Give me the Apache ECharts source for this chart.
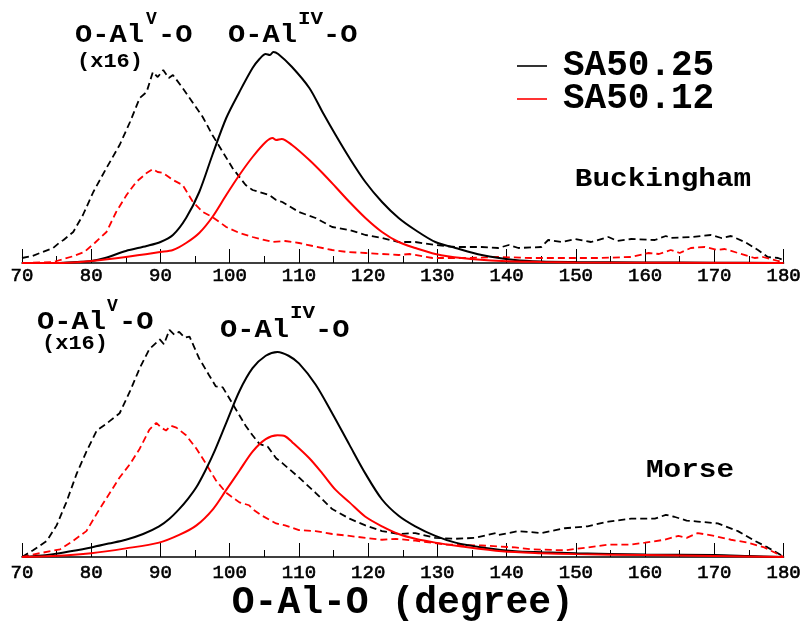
<!DOCTYPE html>
<html><head><meta charset="utf-8">
<script src="https://cdn.jsdelivr.net/npm/echarts@6/dist/echarts.min.js"></script>
<style>html,body{margin:0;padding:0;background:#fff}#c{width:804px;height:623px}</style>
</head><body><div id="c"></div>
<script>
// X axis (angle, degree)
const xMin = 70, xMax = 180, xStep = 10;
const legendNames = ['SA50.25', 'SA50.12'];
const xTitle = 'O-Al-O (degree)';
const panelNames = ['Buckingham', 'Morse'];

// [angle, intensity] — Buckingham panel
const buckSA25_IV = [[70,0],[75,0],[78,1],[80,2],[82,5],[85,12],[88,17],[90,21],[91.8,28],[93.7,45],[95.6,71],[97.5,108],[99.5,145],[101.4,171],[103.3,195],[104.3,204],[105.2,209],[105.8,208],[106.3,211],[107,209],[109,196],[111.5,175],[113.4,151],[115.3,128],[117.3,105],[119.6,81],[122,61],[124.4,45],[126.8,33],[129.7,21],[132.6,15],[136.4,8],[141.2,3],[145,1.5],[150,1],[160,0.5],[170,0.3],[180,0]];
const buckSA12_IV = [[70,0],[76,0],[80,2],[85,6],[90,11],[91.8,13],[93.7,20],[95.6,30],[97.5,46],[99.5,68],[101.4,88],[103.3,106],[105.2,121],[106.2,125],[106.7,123],[107.5,124],[109,118],[111.5,103],[113.4,90],[115.3,76],[117.3,61],[119.6,45],[122,31],[124.4,21],[126.8,15],[129.7,9],[133.5,5],[139.3,2],[145,1],[150,0.5],[180,0]];
const buckSA25_V = [[70,5],[71.5,7],[72.6,10],[74.5,15],[75.5,21],[76,23],[77.4,31],[78.8,48],[80.3,71],[82.2,95],[84.1,118],[85.6,141],[87,165],[88,171],[88.9,191],[89.6,186],[90.4,193],[91.2,185],[91.8,188],[93.2,175],[94.7,160],[96.1,146],[97.5,128],[99,111],[100.4,95],[102.3,78],[103.3,73],[104.3,71],[105.7,68],[106.7,63],[107.6,61],[110,51],[112.4,45],[114.8,36],[117.3,33],[119.6,28],[122,25],[124.4,21],[126.8,21],[129.7,18],[132.6,16],[136.4,16],[138.8,15],[140.3,18],[141.7,15],[145,16],[146,23],[148,21],[149.9,24],[152.2,21],[154.7,26],[156,22],[158,24],[161.4,23],[163,27],[163.7,25],[166.7,26],[169.5,28],[171,25],[172.4,27],[174.4,21],[176.3,13],[177.7,6],[179.2,5],[180,3]];
const buckSA12_V = [[70,0],[74.5,1],[76,4],[77.5,7],[79,11],[80.5,20],[82.2,31],[83.6,51],[85.1,68],[86.5,81],[88,90],[88.9,94],[89.6,91],[90.4,90],[91.2,86],[91.8,83],[93.2,78],[94.7,61],[96.1,51],[97.5,46],[99.5,36],[101.4,30],[103.3,26],[106.2,21],[108,22],[110,20],[112,17],[114.8,13],[117,11],[119.6,10],[122,9],[124.4,8],[126,9],[129.3,5],[134,5],[138.8,6],[143.6,5],[148.4,5],[153.2,5],[158,6],[160.5,10],[162,9],[163.7,13],[165,10],[166.6,15],[168.6,16],[170.5,13],[171.5,14],[173.4,10],[175.8,5],[177,6],[179.2,2],[180,1]];

// [angle, intensity] — Morse panel
const morseSA25_IV = [[70,0],[72,1],[74.5,3],[77,6],[80,10],[82.5,14],[85,18],[87.5,24],[89.8,32],[91.3,40],[92.7,50],[94,61],[95.2,73],[96.4,89],[97.6,107],[99.5,140],[101.4,173],[103.3,197],[105.2,210],[106.9,214],[108.5,210],[110,202],[112.4,180],[114.8,150],[117.3,117],[119.6,87],[122,60],[124.4,43],[126.8,32],[129.7,22],[132.6,15],[136.4,10],[141.2,6],[145,5],[150,4],[160,2.5],[170,2],[175,1],[180,0]];
const morseSA12_IV = [[70,0],[74.5,1],[80,4],[85,9],[89.8,15],[92.7,23],[95.2,33],[97.6,50],[99.5,70],[101.4,90],[103.3,110],[105.2,123],[106.9,127],[108,126],[109,120],[111.5,103],[113.4,87],[115.3,70],[117.3,57],[119.6,42],[122,32],[124.4,24],[126.8,19],[129.7,15],[133.5,11],[139.3,6],[145,4],[150,3],[160,2],[170,1],[180,0]];
const morseSA25_V = [[70,0],[71.6,7],[73.6,17],[75,33],[76.4,57],[77.9,87],[79.3,110],[80.8,132],[82,138],[82.7,142],[84.1,150],[85.6,173],[87,197],[88.4,217],[89.9,227],[90.5,222],[91.3,237],[92,232],[92.7,235],[93.5,229],[94.2,230],[95.6,207],[97,190],[98,178],[99,177],[100.4,160],[102.3,137],[103.3,127],[104.3,118],[105.5,115],[106.7,103],[107.6,98],[110,83],[112.4,67],[114.8,50],[117.3,40],[119.6,33],[122,27],[124.4,24],[126.8,25],[129.7,20],[132.6,19],[135.5,20],[138.4,25],[138.8,23],[141.7,27],[145,25],[148.4,30],[151.7,32],[154.7,37],[158,40],[161.4,40],[163,44],[164.2,42],[166,38],[167.6,37],[170.5,35],[173.4,27],[175.8,17],[177.7,10],[179.6,2],[180,0]];
const morseSA12_V = [[70,0],[72.6,4],[75.5,8],[77.4,17],[79.3,27],[81.2,50],[82.7,67],[84.1,83],[85.6,97],[87,113],[88.4,133],[89.4,140],[90.1,135],[90.8,132],[91.5,137],[92.3,135],[93.7,127],[95.2,113],[96.6,97],[98,80],[99.5,67],[101.4,57],[102.8,54],[103.3,50],[104.7,43],[106.7,35],[108,33],[110,28],[112.4,27],[114.8,24],[117.3,22],[119.6,20],[122,18],[124,19],[126.8,17],[131.3,13],[136.4,12],[141.2,10],[143.6,8],[148.4,7],[151.7,10],[154.7,13],[158,13],[160,15],[162.8,18],[164.8,22],[166,20],[167.6,25],[170,22],[172.4,18],[174.8,15],[177.2,10],[179.2,3],[180,0]];

const FONT = 'Liberation Mono';
const chart = echarts.init(document.getElementById('c'), null, {renderer: 'canvas'});

function xAxisCfg(gi, margin, withName) {
  const a = {
    type: 'value', gridIndex: gi, min: xMin, max: xMax, interval: xStep,
    axisLine: {show: true, lineStyle: {color: '#000', width: 1.5}},
    axisTick: {show: true, inside: true, length: 14, lineStyle: {color: '#000', width: 1}},
    minorTick: {show: true, splitNumber: 2, length: 7, lineStyle: {color: '#000', width: 1}},
    splitLine: {show: false}, minorSplitLine: {show: false},
    axisLabel: {margin: margin, fontSize: 19, color: '#000', fontFamily: FONT,
      textBorderColor: '#000', textBorderWidth: 0.6}
  };
  if (withName) {
    a.name = xTitle; a.nameLocation = 'middle'; a.nameGap = 27;
    a.nameTextStyle = {fontSize: 38, fontWeight: 'bold', color: '#000', fontFamily: FONT};
  }
  return a;
}
function yAxisCfg(gi) {
  return {type: 'value', gridIndex: gi, min: 0, max: 240, show: false};
}
function ser(name, data, gi, color, dashed) {
  return {
    name: name, type: 'line', xAxisIndex: gi, yAxisIndex: gi, data: data,
    symbol: 'none', showSymbol: false, smooth: dashed ? false : 0.3,
    lineStyle: {color: color, width: dashed ? 1.8 : 2, type: dashed ? [7, 4] : 'solid'},
    itemStyle: {color: color}, z: dashed ? 2 : 3
  };
}
function txt(x, y, s, size, sx, align) {
  return {type: 'text', x: x, y: y, scaleX: sx || 1, silent: true,
    style: {text: s, x: 0, y: 0, fill: '#000', font: 'bold ' + size + 'px "' + FONT + '"',
      textAlign: align || 'left', textVerticalAlign: 'middle'}};
}

const option = {
  animation: false,
  backgroundColor: '#fff',
  grid: [
    {left: 22, width: 764, top: 23, height: 240},
    {left: 22, width: 764, top: 327, height: 240}
  ],
  xAxis: [xAxisCfg(0, 3, false), xAxisCfg(1, 6, true)],
  yAxis: [yAxisCfg(0), yAxisCfg(1)],
  legend: {
    data: legendNames, orient: 'vertical', left: 517, top: 48, padding: 0,
    icon: 'rect', itemWidth: 30, itemHeight: 1.6, itemGap: -3,
    textStyle: {fontSize: 36, fontWeight: 'bold', color: '#000', fontFamily: FONT, lineHeight: 32, padding: [0, 0, 0, 11]}
  },
  series: [
    ser(legendNames[0], buckSA25_IV, 0, '#000', false),
    ser(legendNames[1], buckSA12_IV, 0, '#ff0000', false),
    ser(legendNames[0], buckSA25_V, 0, '#000', true),
    ser(legendNames[1], buckSA12_V, 0, '#ff0000', true),
    ser(legendNames[0], morseSA25_IV, 1, '#000', false),
    ser(legendNames[1], morseSA12_IV, 1, '#ff0000', false),
    ser(legendNames[0], morseSA25_V, 1, '#000', true),
    ser(legendNames[1], morseSA12_V, 1, '#ff0000', true)
  ],
  graphic: [
    // Buckingham panel annotations
    txt(75, 35.5, 'O-Al', 25, 1.15), txt(146, 19, 'V', 18, 1.0), txt(158, 35.5, '-O', 25, 1.15),
    txt(77, 61.5, '(x16)', 20, 1.1),
    txt(228, 35.5, 'O-Al', 25, 1.15), txt(298, 19, 'IV', 19, 1.1), txt(323, 35.5, '-O', 25, 1.15),
    txt(663, 179, panelNames[0], 26, 1.13, 'center'),
    // Morse panel annotations
    txt(37, 322.5, 'O-Al', 25, 1.15), txt(107, 306, 'V', 18, 1.0), txt(119, 322.5, '-O', 25, 1.15),
    txt(42, 344, '(x16)', 20, 1.1),
    txt(220, 330.5, 'O-Al', 25, 1.15), txt(290, 313, 'IV', 19, 1.1), txt(315, 330.5, '-O', 25, 1.15),
    txt(690, 470.5, panelNames[1], 26, 1.13, 'center')
  ]
};
chart.setOption(option);
</script></body></html>
